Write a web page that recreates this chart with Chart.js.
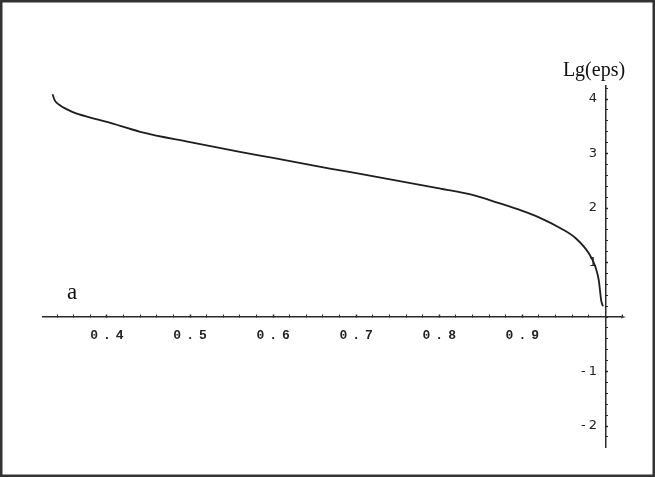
<!DOCTYPE html>
<html><head><meta charset="utf-8">
<script src="https://cdn.jsdelivr.net/npm/chart.js@4/dist/chart.umd.min.js"></script>
<style>html,body{margin:0;padding:0;background:#fff}#wrap{width:655px;height:477px;position:relative}</style>
</head><body><div id="wrap"><canvas id="c" width="655" height="477"></canvas></div>
<script>
const xValues = [0.3345, 0.337, 0.343, 0.359, 0.38, 0.4, 0.44, 0.5, 0.56, 0.6, 0.67, 0.7, 0.79, 0.8, 0.84, 0.87, 0.9, 0.92, 0.946, 0.964, 0.98, 0.988, 0.992, 0.995, 0.997];
const lgEps   = [4.09, 3.98, 3.89, 3.76, 3.66, 3.58, 3.40, 3.21, 3.03, 2.92, 2.72, 2.64, 2.39, 2.36, 2.24, 2.10, 1.95, 1.83, 1.63, 1.45, 1.17, 0.92, 0.68, 0.30, 0.20];
const xTickLabels = ['0.4', '0.5', '0.6', '0.7', '0.8', '0.9'];
const yTickLabels = ['-2', '-1', '1', '2', '3', '4'];
const axisTitle = 'Lg(eps)';
const panelLabel = 'a';

const points = xValues.map((x, i) => ({x: x, y: lgEps[i]}));
function findLabel(list, v) {
  for (const s of list) { if (Math.abs(Number(s) - v) < 1e-6) return s; }
  return '';
}
const INK = '#2a2a2a';

// letter-spaced tick labels (the reference uses a widely spaced screen font)
const spacedLabels = {
  id: 'spacedLabels',
  afterUpdate(chart) {
    const cfg = {x: {sp: 5, dx: 2.5}, yLab: {sp: 3, dx: 3}};
    for (const id in cfg) {
      const s = chart.scales[id];
      if (!s || s._spacedPatched) continue;
      const orig = s.drawLabels;
      const o = cfg[id];
      s.drawLabels = function (area) {
        const c = this.ctx;
        c.save();
        c.letterSpacing = o.sp + 'px';
        c.translate(o.dx, 0);
        orig.call(this, area);
        c.restore();
      };
      s._spacedPatched = true;
    }
  }
};

const decor = {
  id: 'decor',
  beforeDraw(chart) {
    const c = chart.ctx;
    c.save(); c.fillStyle = '#fff'; c.fillRect(0, 0, chart.width, chart.height); c.restore();
  },
  afterDraw(chart) {
    const c = chart.ctx;
    const xs = chart.scales.x, ys = chart.scales.y;
    c.save();
    c.fillStyle = '#111';
    c.font = "20px 'Liberation Serif', 'Times New Roman', serif";
    c.textAlign = 'center'; c.textBaseline = 'alphabetic';
    c.fillText(axisTitle, 594, 76);
    c.font = "23px 'Liberation Serif', 'Times New Roman', serif";
    c.textAlign = 'left';
    c.fillText(panelLabel, xs.getPixelForValue(0.352), ys.getPixelForValue(0.33));
    // small arrow mark at the end of the x axis
    const ax = xs.right + 2, ay = ys.getPixelForValue(0);
    c.fillStyle = '#444';
    c.beginPath(); c.moveTo(ax - 3, ay - 1.5); c.lineTo(ax + 2, ay); c.lineTo(ax - 3, ay + 1.5); c.closePath(); c.fill();
    // frame
    c.strokeStyle = '#333'; c.lineWidth = 2.5;
    c.strokeRect(1.25, 1.25, chart.width - 2.5, chart.height - 2.5);
    c.restore();
  }
};

new Chart(document.getElementById('c'), {
  type: 'scatter',
  data: {
    datasets: [{
      data: points,
      showLine: true,
      borderColor: '#1e1e1e',
      borderWidth: 1.8,
      pointRadius: 0,
      cubicInterpolationMode: 'monotone',
      xAxisID: 'x', yAxisID: 'y'
    }]
  },
  options: {
    responsive: false,
    animation: false,
    layout: {padding: {left: 43, right: 33, top: 86, bottom: 30}},
    plugins: {legend: {display: false}, tooltip: {enabled: false}},
    scales: {
      x: {
        type: 'linear', min: 0.323, max: 1.02,
        position: {y: 0},
        afterFit(s) { s.height = 0; },
        border: {display: true, color: INK, width: 1.5},
        grid: {drawOnChartArea: false, drawTicks: true, tickLength: -3, tickColor: INK,
               tickWidth: ctx => (findLabel(xTickLabels, ctx.tick ? ctx.tick.value : NaN) ? 1.5 : 1)},
        ticks: {stepSize: 0.02, autoSkip: false, includeBounds: false, maxRotation: 0, minRotation: 0,
                padding: 14, color: '#222',
                font: {family: "'Liberation Mono', 'DejaVu Sans Mono', monospace", size: 13, weight: 'bold'},
                callback: v => findLabel(xTickLabels, v)}
      },
      y: {
        type: 'linear', min: -2.385, max: 4.24,
        position: {x: 1},
        afterFit(s) { s.width = 0; },
        border: {display: true, color: INK, width: 1.5},
        grid: {drawOnChartArea: false, drawTicks: true, tickLength: -3, tickColor: INK,
               tickWidth: ctx => (findLabel(yTickLabels, ctx.tick ? ctx.tick.value : NaN) ? 1.5 : 1)},
        ticks: {stepSize: 0.2, autoSkip: false, includeBounds: false, callback: () => ''}
      },
      yLab: {
        type: 'linear', min: -2.385, max: 4.24,
        position: {x: 0.99},
        afterFit(s) { s.width = 0; },
        border: {display: false},
        grid: {display: false, drawTicks: false, tickLength: 0},
        ticks: {stepSize: 1, autoSkip: false, includeBounds: false, padding: 0, color: '#222',
                font: {family: "'DejaVu Sans', sans-serif", size: 13},
                callback: v => findLabel(yTickLabels, v)}
      }
    }
  },
  plugins: [spacedLabels, decor]
});
</script></body></html>
